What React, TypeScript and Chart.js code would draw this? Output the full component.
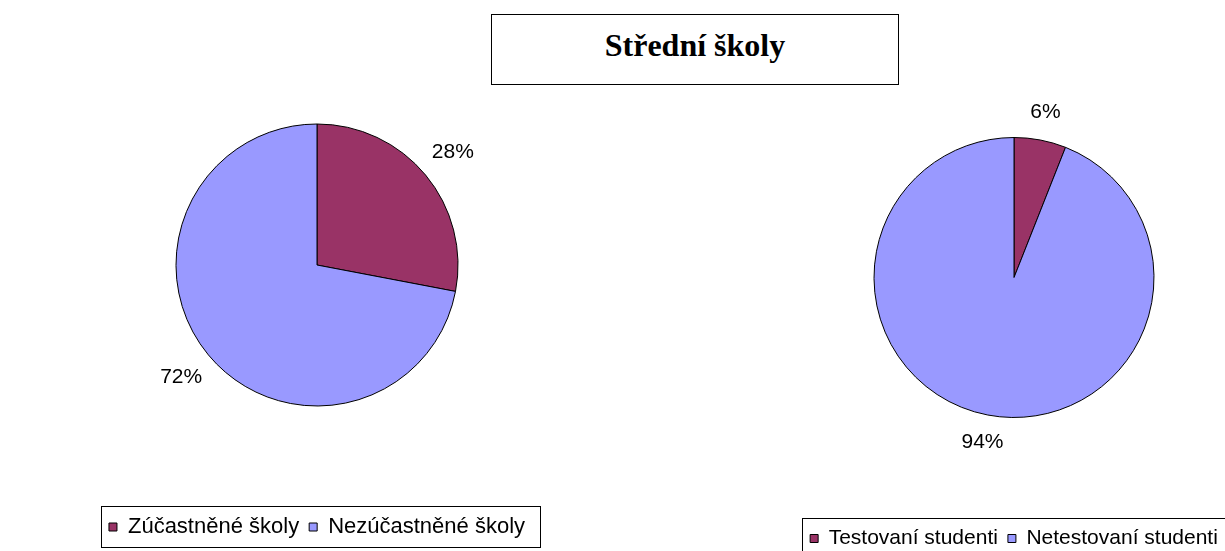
import React, { useEffect, useRef } from "react";
import { Chart, registerables } from "chart.js";

Chart.register(...registerables);

const titleText = "Střední školy";
const schoolLabels = ["Zúčastněné školy", "Nezúčastněné školy"];
const schoolValues = [28, 72];
const studentLabels = ["Testovaní studenti", "Netestovaní studenti"];
const studentValues = [6, 94];
const sliceColors = ["#993366", "#9999FF"];

const FONT = "'Liberation Sans', Arial, sans-serif";

const pctLabels = {
  id: "pctLabels",
  afterDatasetsDraw(chart: any, _args: any, opts: any) {
    const ctx = chart.ctx;
    const meta = chart.getDatasetMeta(0);
    const data = chart.data.datasets[0].data as number[];
    const total = data.reduce((a, b) => a + b, 0);
    ctx.save();
    ctx.font = `21px ${FONT}`;
    ctx.fillStyle = "#000";
    ctx.textAlign = "center";
    ctx.textBaseline = "middle";
    meta.data.forEach((arc: any, i: number) => {
      const p = arc.getProps(["x", "y", "startAngle", "endAngle", "outerRadius"], true);
      const mid = (p.startAngle + p.endAngle) / 2;
      const r = p.outerRadius * (opts.factor || 1.2);
      ctx.fillText(Math.round((data[i] / total) * 100) + "%", p.x + Math.cos(mid) * r, p.y + Math.sin(mid) * r);
    });
    ctx.restore();
  },
};

const legendBorder = {
  id: "legendBorder",
  afterDraw(chart: any, _args: any, opts: any) {
    const boxes = chart.legend && chart.legend.legendHitBoxes;
    if (!boxes || !boxes.length) return;
    const left = Math.min(...boxes.map((b: any) => b.left));
    const right = Math.max(...boxes.map((b: any) => b.left + b.width));
    const top = Math.min(...boxes.map((b: any) => b.top));
    const bottom = Math.max(...boxes.map((b: any) => b.top + b.height));
    const ctx = chart.ctx;
    ctx.save();
    ctx.strokeStyle = "#000";
    ctx.lineWidth = 1;
    const x0 = Math.round(left - (opts.padLeft ?? 8)) + 0.5;
    const x1 = Math.round(right + (opts.padRight ?? 14)) + 0.5;
    const y0 = Math.round(top - 10) + 0.5;
    const y1 = Math.round(bottom + 9) + 0.5;
    ctx.strokeRect(x0, y0, x1 - x0, y1 - y0);
    ctx.restore();
  },
};

function PieBox(props: {
  labels: string[];
  values: number[];
  radius: number;
  padTop: number;
  padBottom: number;
  factor: number;
  legendSize: number;
  style: React.CSSProperties;
}) {
  const ref = useRef<HTMLCanvasElement>(null);
  useEffect(() => {
    if (!ref.current) return;
    const chart = new Chart(ref.current, {
      type: "pie",
      data: {
        labels: props.labels,
        datasets: [
          {
            data: props.values,
            backgroundColor: sliceColors,
            borderColor: "#000",
            borderWidth: 1,
            radius: props.radius,
          } as any,
        ],
      },
      options: {
        animation: false,
        responsive: true,
        maintainAspectRatio: false,
        radius: props.radius,
        layout: { padding: { top: props.padTop, left: 0, right: 0, bottom: props.padBottom } },
        events: [],
        plugins: {
          tooltip: { enabled: false },
          legend: {
            position: "bottom",
            labels: {
              boxWidth: 8,
              boxHeight: 8,
              padding: 10,
              color: "#000",
              font: { family: FONT, size: props.legendSize },
            },
          },
          pctLabels: { factor: props.factor },
          legendBorder: { padLeft: 8, padRight: 15 },
        } as any,
      } as any,
      plugins: [pctLabels, legendBorder],
    });
    return () => chart.destroy();
  }, []);
  return (
    <div style={{ position: "absolute", ...props.style }}>
      <canvas ref={ref} />
    </div>
  );
}

export default function App() {
  return (
    <div
      style={{
        position: "fixed",
        left: 0,
        top: 0,
        width: 1225,
        height: 551,
        overflow: "hidden",
        background: "#fff",
      }}
    >
      <div
        style={{
          position: "absolute",
          left: 491,
          top: 14,
          width: 406,
          height: 69,
          border: "1px solid #000",
          boxSizing: "content-box",
          fontFamily: "'Liberation Serif', 'Times New Roman', serif",
          fontWeight: "bold",
          fontSize: 32,
          lineHeight: "36px",
          textAlign: "center",
        }}
      >
        <div style={{ position: "absolute", left: 0, right: 0, top: 12 }}>{titleText}</div>
      </div>
      <PieBox
        labels={schoolLabels}
        values={schoolValues}
        radius={141}
        padTop={24}
        padBottom={3}
        factor={1.25}
        legendSize={22}
        style={{ left: 87, top: 0, width: 460, height: 551 }}
      />
      <PieBox
        labels={studentLabels}
        values={studentValues}
        radius={140}
        padTop={37}
        padBottom={0}
        factor={1.2}
        legendSize={21}
        style={{ left: 784, top: 0, width: 460, height: 559 }}
      />
    </div>
  );
}
